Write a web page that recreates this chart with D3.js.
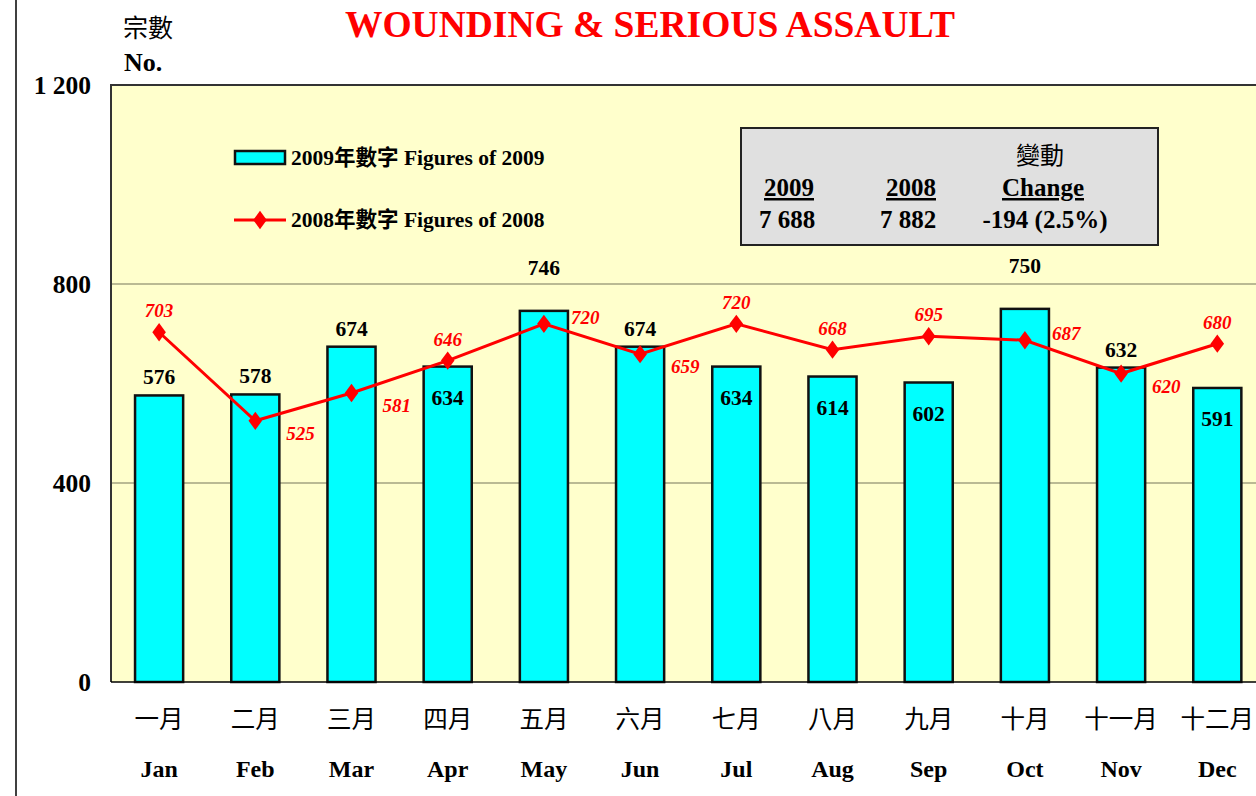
<!DOCTYPE html>
<html>
<head>
<meta charset="utf-8">
<script src="https://d3js.org/d3.v7.min.js"></script>
<style>
body { margin: 0; background: #fff; }
text { font-family: "Liberation Serif", "Times New Roman", serif; font-weight: bold; }
.cjk { font-family: "Noto Sans CJK TC", "Noto Sans CJK SC", sans-serif; font-weight: normal; }
</style>
</head>
<body>
<svg width="1256" height="796"></svg>
<script>

// data
var monthsZh = ['一月','二月','三月','四月','五月','六月','七月','八月','九月','十月','十一月','十二月']
var monthsEn = ['Jan','Feb','Mar','Apr','May','Jun','Jul','Aug','Sep','Oct','Nov','Dec']
var fig2009 = [576, 578, 674, 634, 746, 674, 634, 614, 602, 750, 632, 591]
var fig2008 = [703, 525, 581, 646, 720, 659, 720, 668, 695, 687, 620, 680]
var yTicks = [0, 400, 800, 1200]
// where the labels sit
var barLabelPos = ['top','top','top','in','high','top','in','in','in','high','top','in']
var lineLabelPos = ['up','below','below','up','right','below','up','up','up','right','below','up']

var width = 1256,
	height = 796,
	plotLeft = 111,
	plotTop = 85,
	plotBottom = 682,
	step = 96.2

var svg = d3.select('svg')

var x = d3.scaleBand()
	.domain(monthsEn)
	.range([plotLeft, plotLeft + step * 12])
	.paddingInner(0.5)
	.paddingOuter(0.25)

var y = d3.scaleLinear()
	.domain([0, 1200])
	.range([plotBottom, plotTop])

// frame line at left
svg.append('line')
	.attr('x1', 16).attr('x2', 16).attr('y1', 0).attr('y2', height)
	.style('stroke', '#000').style('stroke-width', 1.5)

// plot background
svg.append('rect')
	.attr('x', plotLeft).attr('y', plotTop)
	.attr('width', width - plotLeft + 10).attr('height', plotBottom - plotTop)
	.style('fill', '#FFFFCC')

// gridlines
svg.selectAll('.grid')
	.data(yTicks.filter(d => d > 0 && d < 1200))
	.enter().append('line')
	.attr('x1', plotLeft).attr('x2', width)
	.attr('y1', d => y(d)).attr('y2', d => y(d))
	.style('stroke', '#77775a').style('stroke-width', 1.2)

// border top / left
svg.append('path')
	.attr('d', 'M' + plotLeft + ',' + plotBottom + 'V' + plotTop + 'H' + width)
	.style('fill', 'none').style('stroke', '#333').style('stroke-width', 2)

// y axis
var yAxis = d3.axisLeft(y)
	.tickValues(yTicks)
	.tickSize(0)
	.tickPadding(20)
	.tickFormat(d => d3.format(',')(d).replace(',', ' '))

var ya = svg.append('g')
	.attr('transform', 'translate(' + plotLeft + ',0)')
	.call(yAxis)
ya.select('.domain').remove()
ya.selectAll('text')
	.style('font-size', '25.5px')
	.style('font-family', '"Liberation Serif", serif')
	.style('font-weight', 'bold')
	.attr('fill', '#000')

// bars
svg.selectAll('.bar')
	.data(fig2009)
	.enter().append('rect')
	.attr('x', (d, i) => x(monthsEn[i]))
	.attr('y', d => y(d))
	.attr('width', x.bandwidth())
	.attr('height', d => plotBottom - y(d))
	.style('fill', '#00FFFF')
	.style('stroke', '#111')
	.style('stroke-width', 2.5)

// x axis line
svg.append('line')
	.attr('x1', plotLeft).attr('x2', width)
	.attr('y1', plotBottom).attr('y2', plotBottom)
	.style('stroke', '#000').style('stroke-width', 1.5)

// category labels
svg.selectAll('.zh')
	.data(monthsZh)
	.enter().append('text')
	.attr('class', 'cjk')
	.attr('x', (d, i) => x(monthsEn[i]) + x.bandwidth() / 2)
	.attr('y', 728)
	.attr('text-anchor', 'middle')
	.style('font-size', '24.5px')
	.text(d => d)

svg.selectAll('.en')
	.data(monthsEn)
	.enter().append('text')
	.attr('x', d => x(d) + x.bandwidth() / 2)
	.attr('y', 777)
	.attr('text-anchor', 'middle')
	.style('font-size', '24px')
	.text(d => d)

// bar labels
var bDy = { top: -11, high: -36, 'in': 38 }
svg.selectAll('.blabel')
	.data(fig2009)
	.enter().append('text')
	.attr('x', (d, i) => x(monthsEn[i]) + x.bandwidth() / 2)
	.attr('y', (d, i) => y(d) + bDy[barLabelPos[i]])
	.attr('text-anchor', 'middle')
	.style('font-size', '21.5px')
	.text(d => d)

// line 2008
var cx = (d, i) => x(monthsEn[i]) + x.bandwidth() / 2
var line = d3.line()
	.x(cx)
	.y(d => y(d))

svg.append('path')
	.datum(fig2008)
	.attr('d', line)
	.style('fill', 'none')
	.style('stroke', '#FF0000')
	.style('stroke-width', 3)

svg.selectAll('.pt')
	.data(fig2008)
	.enter().append('path')
	.attr('d', d3.symbol(d3.symbolDiamond, 120))
	.attr('transform', (d, i) => 'translate(' + cx(d, i) + ',' + y(d) + ') scale(1.15,0.9)')
	.style('fill', '#FF0000')

var lOff = {
	up: [0, -15, 'middle'],
	right: [27, 0, 'start'],
	below: [31, 19, 'start']
}

svg.selectAll('.llabel')
	.data(fig2008)
	.enter().append('text')
	.attr('x', (d, i) => cx(d, i) + lOff[lineLabelPos[i]][0])
	.attr('y', (d, i) => y(d) + lOff[lineLabelPos[i]][1])
	.attr('text-anchor', (d, i) => lOff[lineLabelPos[i]][2])
	.style('font-size', '19px')
	.style('font-style', 'italic')
	.style('fill', '#FF0000')
	.text(d => d)

// title
svg.append('text')
	.attr('x', 650).attr('y', 37)
	.attr('text-anchor', 'middle')
	.style('font-size', '37.5px')
	.style('fill', '#FF0000')
	.text('WOUNDING & SERIOUS ASSAULT')

svg.append('text')
	.attr('class', 'cjk')
	.attr('x', 123).attr('y', 37)
	.style('font-size', '25px')
	.text('宗數')

svg.append('text')
	.attr('x', 124).attr('y', 71)
	.style('font-size', '26px')
	.text('No.')

// legend
var lg = svg.append('g')
lg.append('rect')
	.attr('x', 235).attr('y', 151).attr('width', 50).attr('height', 13)
	.style('fill', '#00FFFF').style('stroke', '#111').style('stroke-width', 2.5)
lg.append('line')
	.attr('x1', 234).attr('x2', 286).attr('y1', 220).attr('y2', 220)
	.style('stroke', '#FF0000').style('stroke-width', 3)
lg.append('path')
	.attr('d', d3.symbol(d3.symbolDiamond, 120))
	.attr('transform', 'translate(260,220) scale(1.15,0.9)')
	.style('fill', '#FF0000')

var legendText = ['2009年數字 Figures of 2009', '2008年數字 Figures of 2008']
legendText.forEach(function(t, i) {
	var tx = lg.append('text')
		.attr('x', 291).attr('y', 165 + i * 62)
		.style('font-size', '21.5px')
	var parts = t.split('年數字')
	tx.append('tspan').text(parts[0])
	tx.append('tspan').attr('class', 'cjk').style('font-weight', 'bold').text('年數字')
	tx.append('tspan').text(parts[1])
})

// summary box
var box = svg.append('g')
box.append('rect')
	.attr('x', 741).attr('y', 128).attr('width', 417).attr('height', 117)
	.style('fill', '#E0E0E0').style('stroke', '#222').style('stroke-width', 2)

box.append('text')
	.attr('class', 'cjk')
	.attr('x', 1040).attr('y', 164)
	.attr('text-anchor', 'middle')
	.style('font-size', '24px')
	.text('變動')

var heads = [['2009', 789], ['2008', 911], ['Change', 1043]]
var vals = [['7 688', 787], ['7 882', 908], ['-194 (2.5%)', 1045]]

heads.forEach(function(h) {
	box.append('text')
		.attr('x', h[1]).attr('y', 196)
		.attr('text-anchor', 'middle')
		.style('font-size', '25px')
		.style('text-decoration', 'underline')
		.text(h[0])
})
vals.forEach(function(v) {
	box.append('text')
		.attr('x', v[1]).attr('y', 228)
		.attr('text-anchor', 'middle')
		.style('font-size', '25px')
		.text(v[0])
})

</script>
</body>
</html>
